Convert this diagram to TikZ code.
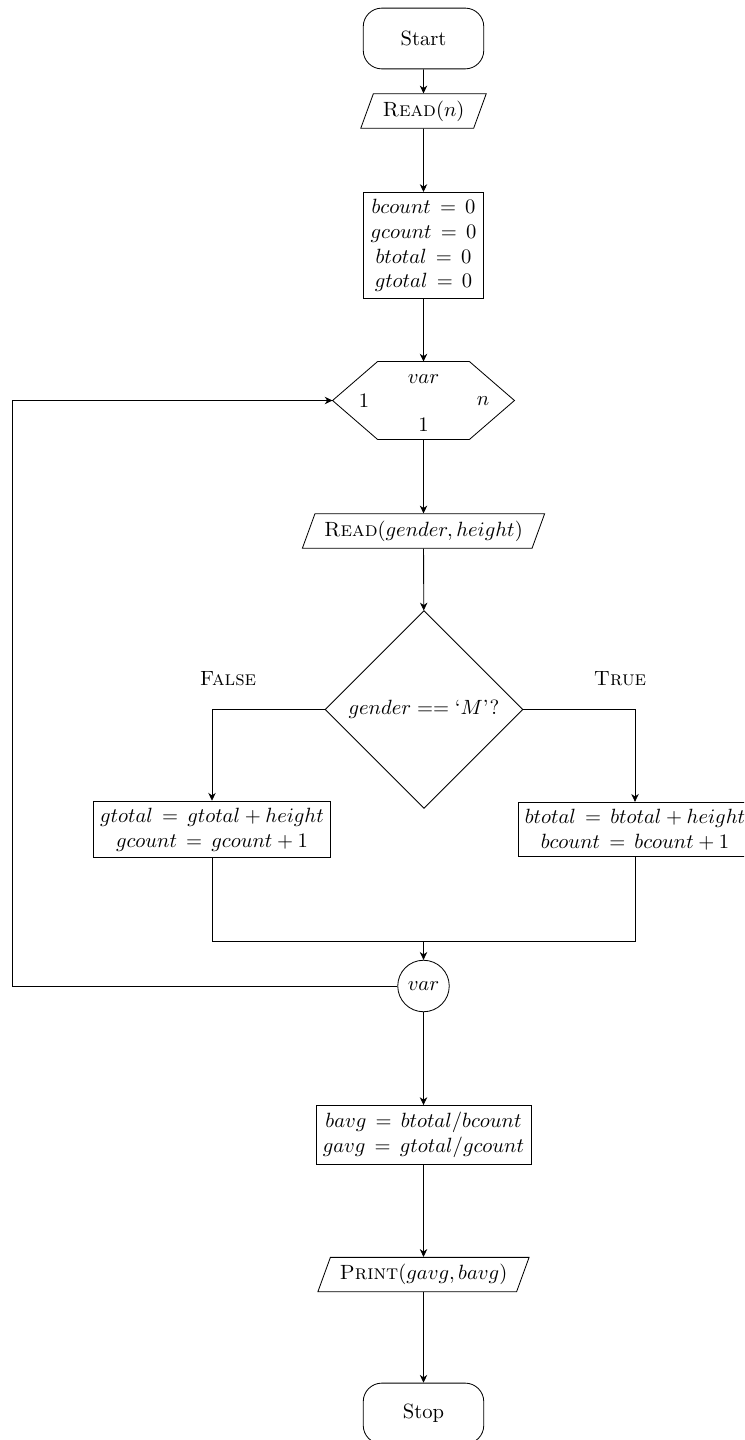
\documentclass[tikz,border=0pt]{standalone}
\usetikzlibrary{shapes.geometric,calc,arrows.meta}
\begin{document}
\begin{tikzpicture}[x=0.4854pt,y=-0.4854pt,
  term/.style={draw, rounded corners=9pt, minimum width=58.5pt, minimum height=29.5pt},
  io/.style={draw, trapezium, trapezium left angle=70, trapezium right angle=110, inner xsep=4.5pt},
  proc/.style={draw, align=center},
  dec/.style={draw, diamond, aspect=1, minimum width=96pt, minimum height=96pt},
  conn/.style={draw, circle, minimum size=25pt, inner sep=1pt},
  lbl/.style={inner sep=0pt},
  flow/.style={-{Stealth[length=3.8pt,width=3.6pt,inset=1.2pt]}}]
\useasboundingbox (0,0) rectangle (744,1440);
\clip (0,0) rectangle (744,1440);

\node[term] (start) at (423.5,38.5) {Start};
\node[io] (readn) at (423.5,111) {\textsc{Read}$(n)$};
\node[proc] (init) at (423.5,245.5) {$bcount\,=\,0$\\ $gcount\,=\,0$\\ $btotal\,=\,0$\\ $gtotal\,=\,0$};
\node[minimum width=87.9pt, minimum height=37.4pt, inner sep=0pt] (loop) at (423.5,400.5) {};
\draw (loop.west) -- ($(loop.north west)+(45,0)$) -- ($(loop.north east)+(-45,0)$) -- (loop.east)
  -- ($(loop.south east)+(-45,0)$) -- ($(loop.south west)+(45,0)$) -- cycle;
\node[lbl] (lvar) at (423.5,379) {$var$};
\node[lbl] (lfrom) at (364,401) {$1$};
\node[lbl] (lto) at (483,401) {$n$};
\node[lbl] (lstep) at (423.5,425) {$1$};

\node[io] (readgh) at (423.5,531) {\textsc{Read}$(gender, height)$};
\node[dec] (dec) at (424,709.5) {$gender == \mbox{`}M\mbox{'?}$};
\node (lfalse) at (228,679) {\textsc{False}};
\node (ltrue) at (620,679) {\textsc{True}};
\node[proc] (gbox) at (212,829.5) {$gtotal\,=\,gtotal+height$\\ $gcount\,=\,gcount+1$};
\node[proc] (bbox) at (635,829.5) {$btotal\,=\,btotal+height$\\ $bcount\,=\,bcount+1$};
\coordinate (m) at (423.5,941);
\node[conn] (var) at (423.5,986) {$var$};
\coordinate (lc) at (12,986);
\node[proc] (avg) at (423.5,1135) {$bavg\,=\,btotal/bcount$\\ $gavg\,=\,gtotal/gcount$};
\node[io] (prnt) at (423.5,1274.5) {\textsc{Print}$(gavg, bavg)$};
\node[term] (stop) at (423.5,1413.5) {Stop};

\draw[flow] (start) -- (readn);
\draw[flow] (readn) -- (init);
\draw[flow] (init) -- (loop.north);
\draw[flow] (loop.south) -- (readgh);
\draw[flow] (readgh) -- (dec);
\draw[flow] (dec.west) -| (gbox.north);
\draw[flow] (dec.east) -| (bbox.north);
\draw (gbox.south) |- (m);
\draw (bbox.south) |- (m);
\draw[flow] (m) -- (var);
\draw[flow] (var.west) -- (lc) |- (loop.west);
\draw[flow] (var) -- (avg);
\draw[flow] (avg) -- (prnt);
\draw[flow] (prnt) -- (stop);
\end{tikzpicture}
\end{document}
